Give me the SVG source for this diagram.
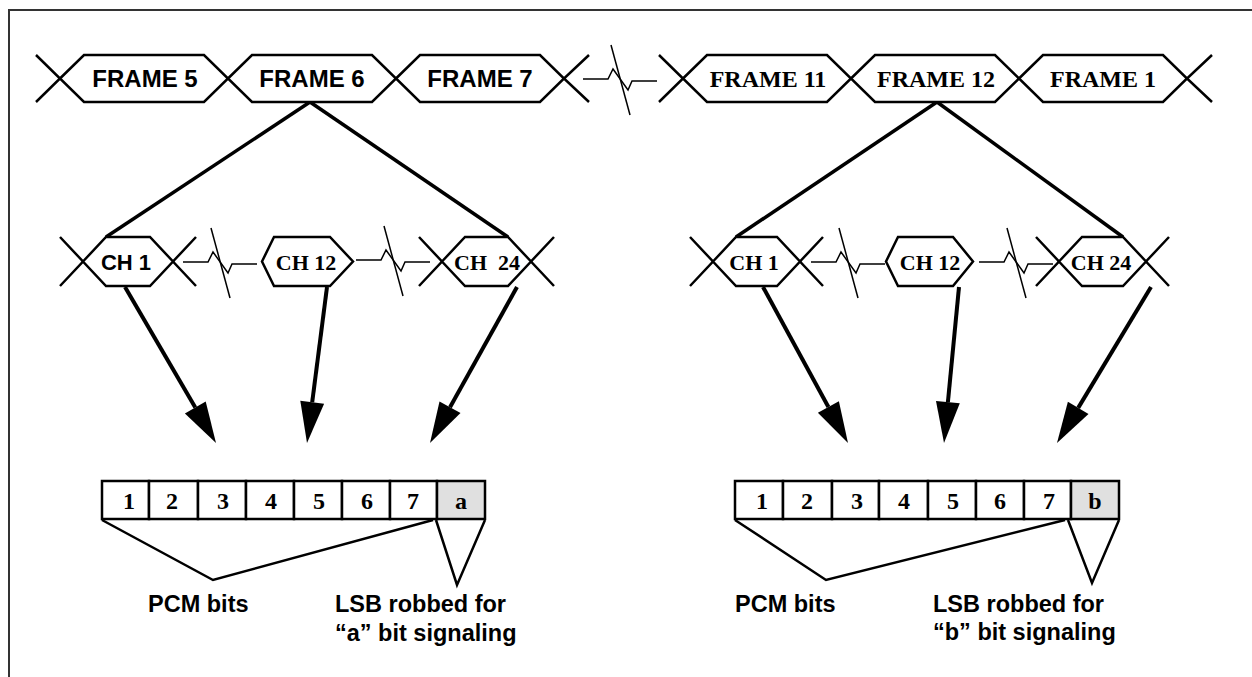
<svg xmlns="http://www.w3.org/2000/svg" width="1252" height="677" viewBox="0 0 1252 677">
<style>
.hex{fill:#fff;stroke:#000;stroke-width:2.5;stroke-linejoin:miter}
.x{stroke:#000;stroke-width:2.5;fill:none}
.brk{stroke:#000;stroke-width:1.5;fill:none}
.fan{stroke:#000;stroke-width:3.5;fill:none}
.arr{stroke:#000;stroke-width:4;fill:none}
.head{fill:#000}
.cell{fill:#fff;stroke:#000;stroke-width:2.5}
.sig{fill:#e0e0e0;stroke:#000;stroke-width:2.5}
.v{stroke:#000;stroke-width:2.5;fill:none;stroke-linejoin:miter}
.sans{font-family:"Liberation Sans",Arial,sans-serif;font-weight:bold;fill:#000}
.serif{font-family:"Liberation Serif","Times New Roman",serif;font-weight:bold;fill:#000}
.fr{font-size:24px;text-anchor:middle}
.ch{font-size:22px;text-anchor:middle}
.bit{font-size:24px;text-anchor:middle;font-family:"Liberation Serif","Times New Roman",serif;font-weight:bold}
.lbl{font-size:23.5px}
</style>
<defs>
<g id="break">
<path class="brk" d="M0,0 H25 L30,-10 L45,11 L49,2 H74"/>
<line class="brk" x1="28" y1="-34" x2="47" y2="36"/>
</g>
</defs>
<path d="M9,677 V10 H1252" fill="none" stroke="#333" stroke-width="2"/>

<g id="connectors">
<line class="fan" x1="310" y1="102" x2="106" y2="237"/>
<line class="fan" x1="310" y1="102" x2="508" y2="237"/>
<line class="fan" x1="937" y1="102" x2="736" y2="237"/>
<line class="fan" x1="937" y1="102" x2="1123" y2="237"/>
<line class="arr" x1="125" y1="287" x2="195.3" y2="407.6"/>
<polygon class="head" points="216,443 205.7,401.6 184.9,413.6"/>
<line class="arr" x1="327" y1="287" x2="312.2" y2="402.3"/>
<polygon class="head" points="307,443 324.1,403.8 300.3,400.8"/>
<line class="arr" x1="517" y1="287" x2="450" y2="407.2"/>
<polygon class="head" points="430,443 460.5,413 439.5,401.4"/>
<line class="arr" x1="763" y1="287" x2="828.4" y2="407"/>
<polygon class="head" points="848,443 838.9,401.3 817.9,412.7"/>
<line class="arr" x1="959" y1="287" x2="947.9" y2="402.2"/>
<polygon class="head" points="944,443 959.8,403.3 936,401.1"/>
<line class="arr" x1="1151" y1="287" x2="1078.2" y2="407.9"/>
<polygon class="head" points="1057,443 1088.5,414.1 1067.9,401.7"/>
<use href="#break" x="583" y="79"/>
<use href="#break" x="183" y="262"/>
<use href="#break" x="356" y="260"/>
<use href="#break" x="811" y="262"/>
<use href="#break" x="979" y="262"/>
</g>

<g id="frame5">
<path class="x" d="M36,55 L60,78.5 L36,102"/>
<polygon class="hex" points="60,78.5 84,55 204,55 228,78.5 204,102 84,102"/>
<text class="sans fr" x="145" y="87">FRAME 5</text>
</g>
<g id="frame6">
<polygon class="hex" points="228,78.5 252,55 372,55 396,78.5 372,102 252,102"/>
<text class="sans fr" x="312" y="87">FRAME 6</text>
</g>
<g id="frame7">
<polygon class="hex" points="396,78.5 420,55 540,55 564,78.5 540,102 420,102"/>
<path class="x" d="M589,55 L564,78.5 L589,102"/>
<text class="sans fr" x="480" y="87">FRAME 7</text>
</g>
<g id="frame11">
<path class="x" d="M659,55 L683,78.5 L659,102"/>
<polygon class="hex" points="683,78.5 707,55 827,55 851,78.5 827,102 707,102"/>
<text class="serif fr" x="768" y="87">FRAME 11</text>
</g>
<g id="frame12">
<polygon class="hex" points="851,78.5 875,55 995,55 1019,78.5 995,102 875,102"/>
<text class="serif fr" x="936" y="87">FRAME 12</text>
</g>
<g id="frame1">
<polygon class="hex" points="1019,78.5 1043,55 1163,55 1187,78.5 1163,102 1043,102"/>
<path class="x" d="M1212,55 L1187,78.5 L1212,102"/>
<text class="serif fr" x="1103" y="87">FRAME 1</text>
</g>

<g id="l-ch1">
<path class="x" d="M60,237 L83,261.5 L60,286 M196,237 L173,261.5 L196,286"/>
<polygon class="hex" points="83,261.5 106,237 150,237 173,261.5 150,286 106,286"/>
<text class="sans ch" x="126" y="270">CH 1</text>
</g>
<g id="l-ch12">
<polygon class="hex" points="262,261.5 274,237 330,237 353,261.5 330,286 274,286"/>
<text class="serif ch" x="306" y="270">CH 12</text>
</g>
<g id="l-ch24">
<path class="x" d="M419,237 L442,261.5 L419,286 M554,237 L531,261.5 L554,286"/>
<polygon class="hex" points="442,261.5 465,237 508,237 531,261.5 508,286 465,286"/>
<text class="serif ch" x="487" y="270" xml:space="preserve">CH  24</text>
</g>
<g id="r-ch1">
<path class="x" d="M690,237 L713,261.5 L690,286 M823,237 L800,261.5 L823,286"/>
<polygon class="hex" points="713,261.5 736,237 777,237 800,261.5 777,286 736,286"/>
<text class="serif ch" x="754" y="270">CH 1</text>
</g>
<g id="r-ch12">
<polygon class="hex" points="886,261.5 898,237 953,237 973,261.5 953,286 898,286"/>
<text class="serif ch" x="930" y="270">CH 12</text>
</g>
<g id="r-ch24">
<path class="x" d="M1036,237 L1059,261.5 L1036,286 M1169,237 L1146,261.5 L1169,286"/>
<polygon class="hex" points="1059,261.5 1082,237 1123,237 1146,261.5 1123,286 1082,286"/>
<text class="serif ch" x="1101" y="270">CH 24</text>
</g>

<g id="l-word">
<rect class="cell" x="102" y="481" width="47" height="38"/>
<rect class="cell" x="149" y="481" width="49" height="38"/>
<rect class="cell" x="198" y="481" width="48" height="38"/>
<rect class="cell" x="246" y="481" width="48" height="38"/>
<rect class="cell" x="294" y="481" width="48" height="38"/>
<rect class="cell" x="342" y="481" width="48" height="38"/>
<rect class="cell" x="390" y="481" width="47" height="38"/>
<rect class="sig" x="437" y="481" width="48" height="38"/>
<text class="bit" x="129" y="509">1</text>
<text class="bit" x="172" y="509">2</text>
<text class="bit" x="223" y="509">3</text>
<text class="bit" x="271" y="509">4</text>
<text class="bit" x="319" y="509">5</text>
<text class="bit" x="367" y="509">6</text>
<text class="bit" x="413" y="509">7</text>
<text class="bit" x="461" y="509">a</text>
<path class="v" d="M102,520 L213,580 L433,520"/>
<path class="v" d="M436,520 L457,585 L485,520"/>
<text class="sans lbl" x="148" y="612">PCM bits</text>
<text class="sans lbl" x="335" y="612">LSB robbed for</text>
<text class="sans lbl" x="335" y="641">“a” bit signaling</text>
</g>

<g id="r-word">
<rect class="cell" x="735" y="481" width="48" height="38"/>
<rect class="cell" x="783" y="481" width="49" height="38"/>
<rect class="cell" x="832" y="481" width="47" height="38"/>
<rect class="cell" x="879" y="481" width="49" height="38"/>
<rect class="cell" x="928" y="481" width="48" height="38"/>
<rect class="cell" x="976" y="481" width="48" height="38"/>
<rect class="cell" x="1024" y="481" width="47" height="38"/>
<rect class="sig" x="1071" y="481" width="48" height="38"/>
<text class="bit" x="762" y="509">1</text>
<text class="bit" x="807" y="509">2</text>
<text class="bit" x="857" y="509">3</text>
<text class="bit" x="904" y="509">4</text>
<text class="bit" x="953" y="509">5</text>
<text class="bit" x="1000" y="509">6</text>
<text class="bit" x="1049" y="509">7</text>
<text class="bit" x="1095" y="509">b</text>
<path class="v" d="M735,520 L826,580 L1065,520"/>
<path class="v" d="M1068,520 L1092,583 L1119,520"/>
<text class="sans lbl" x="735" y="612">PCM bits</text>
<text class="sans lbl" x="933" y="612">LSB robbed for</text>
<text class="sans lbl" x="933" y="640">“b” bit signaling</text>
</g>
</svg>
